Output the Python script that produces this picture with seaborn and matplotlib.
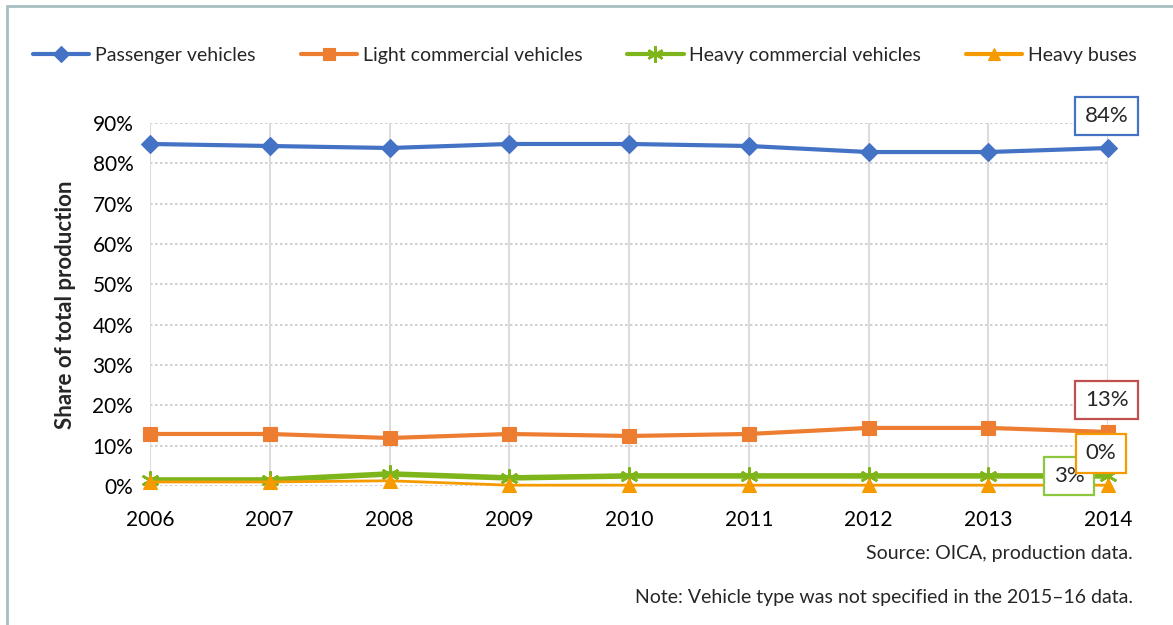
import matplotlib
matplotlib.use("Agg")
import matplotlib.pyplot as plt
from matplotlib.lines import Line2D
from matplotlib.ticker import PercentFormatter
import pandas as pd
import seaborn as sns

years = [2006, 2007, 2008, 2009, 2010, 2011, 2012, 2013, 2014]
passenger = [84.8, 84.3, 83.8, 84.8, 84.8, 84.3, 82.8, 82.8, 83.8]
light_commercial = [12.9, 12.9, 11.9, 12.9, 12.4, 12.9, 14.4, 14.4, 13.4]
heavy_commercial = [1.5, 1.5, 3.0, 2.0, 2.5, 2.5, 2.5, 2.5, 2.5]
heavy_buses = [1.0, 1.0, 1.3, 0.2, 0.2, 0.2, 0.2, 0.2, 0.2]

series_names = ["Passenger vehicles", "Light commercial vehicles",
                "Heavy commercial vehicles", "Heavy buses"]
end_labels = ["84%", "13%", "3%", "0%"]
y_ticks = [0, 10, 20, 30, 40, 50, 60, 70, 80, 90]

df = pd.DataFrame({
    "year": years * 4,
    "share": passenger + light_commercial + heavy_commercial + heavy_buses,
    "type": [n for n in series_names for _ in years],
})

styles = {
    "Passenger vehicles": dict(color="#4472C4", marker="D", lw=3.0, ms=9, mew=0.8),
    "Light commercial vehicles": dict(color="#ED7D31", marker="s", lw=3.0, ms=10, mew=0.8),
    "Heavy commercial vehicles": dict(color="#7DB51B", marker=(6, 2, 0), lw=4.0, ms=13, mew=1.8),
    "Heavy buses": dict(color="#F59B00", marker="^", lw=2.0, ms=10, mew=0.8),
}
box_colors = {
    "Passenger vehicles": "#4472C4",
    "Light commercial vehicles": "#C0504D",
    "Heavy commercial vehicles": "#8DC63F",
    "Heavy buses": "#F59B00",
}
# label offsets (points) from the 2014 point
offsets = {
    "Passenger vehicles": (-1, 23),
    "Light commercial vehicles": (-1, 23),
    "Heavy commercial vehicles": (-28, 0),
    "Heavy buses": (-5, 23),
}

sns.set_theme(style="white")
plt.rcParams["font.family"] = ["Lato", "DejaVu Sans"]

fig = plt.figure(figsize=(11.73, 6.25), dpi=100)
ax = fig.add_axes([150 / 1173, 1 - 486 / 625, (1108 - 150) / 1173, (486 - 123) / 625])

for name in series_names:
    st = styles[name]
    sub = df[df["type"] == name]
    sns.lineplot(data=sub, x="year", y="share", ax=ax, color=st["color"],
                 marker=st["marker"], markersize=st["ms"], linewidth=st["lw"],
                 markeredgecolor=st["color"], markeredgewidth=st["mew"],
                 legend=False, clip_on=False, zorder=3)

handles = []
for name in series_names:
    st = styles[name]
    handles.append(Line2D([], [], color=st["color"], marker=st["marker"],
                          markersize=st["ms"] * 0.9, linewidth=3,
                          markeredgecolor=st["color"], markeredgewidth=st["mew"],
                          label=name))

ax.set_xlim(years[0], years[-1])
ax.set_ylim(0, 90)
ax.set_xticks(years)
ax.set_yticks(y_ticks)
ax.yaxis.set_major_formatter(PercentFormatter(decimals=0))
ax.tick_params(axis="both", labelsize=15, length=0, colors="#000000")
ax.tick_params(axis="y", pad=12)
ax.tick_params(axis="x", pad=17)
ax.set_xlabel("")
ax.set_ylabel("Share of total production", fontsize=16, fontweight="bold", labelpad=12)

ax.grid(False)
for y in y_ticks:
    ax.axhline(y, color="#C8C8C8", lw=1.2, ls=(0, (1.5, 1.5)), zorder=1)
for x in years:
    ax.axvline(x, color="#DCDCDC", lw=1.5, zorder=1)
for s in ax.spines.values():
    s.set_visible(False)

series_values = dict(zip(series_names, [passenger, light_commercial, heavy_commercial, heavy_buses]))
for name, lab in zip(series_names, end_labels):
    ax.annotate(lab, xy=(years[-1], series_values[name][-1]), xytext=offsets[name],
                textcoords="offset points", ha="center", va="center", fontsize=16,
                bbox=dict(boxstyle="square,pad=0.42", fc="white", ec=box_colors[name], lw=1.6),
                zorder=5, annotation_clip=False)

fig.legend(handles=handles, loc="center", bbox_to_anchor=(585 / 1173, 1 - 55 / 625),
           ncol=4, frameon=False, fontsize=14, handlelength=2.9, handletextpad=0.3,
           columnspacing=2.3)

fig.text(1133 / 1173, 1 - 553 / 625, "Source: OICA, production data.",
         ha="right", va="center", fontsize=14)
fig.text(1133 / 1173, 1 - 598 / 625, "Note: Vehicle type was not specified in the 2015\u201316 data.",
         ha="right", va="center", fontsize=14)

# outer frame edges
frame_color = "#A7BFC0"
fig.add_artist(Line2D([7 / 1173, 7 / 1173], [0, 1 - 6 / 625], color=frame_color, lw=2,
                      transform=fig.transFigure))
fig.add_artist(Line2D([7 / 1173, 1], [1 - 6 / 625, 1 - 6 / 625], color=frame_color, lw=2,
                      transform=fig.transFigure))

fig.savefig("out.png", dpi=100)
